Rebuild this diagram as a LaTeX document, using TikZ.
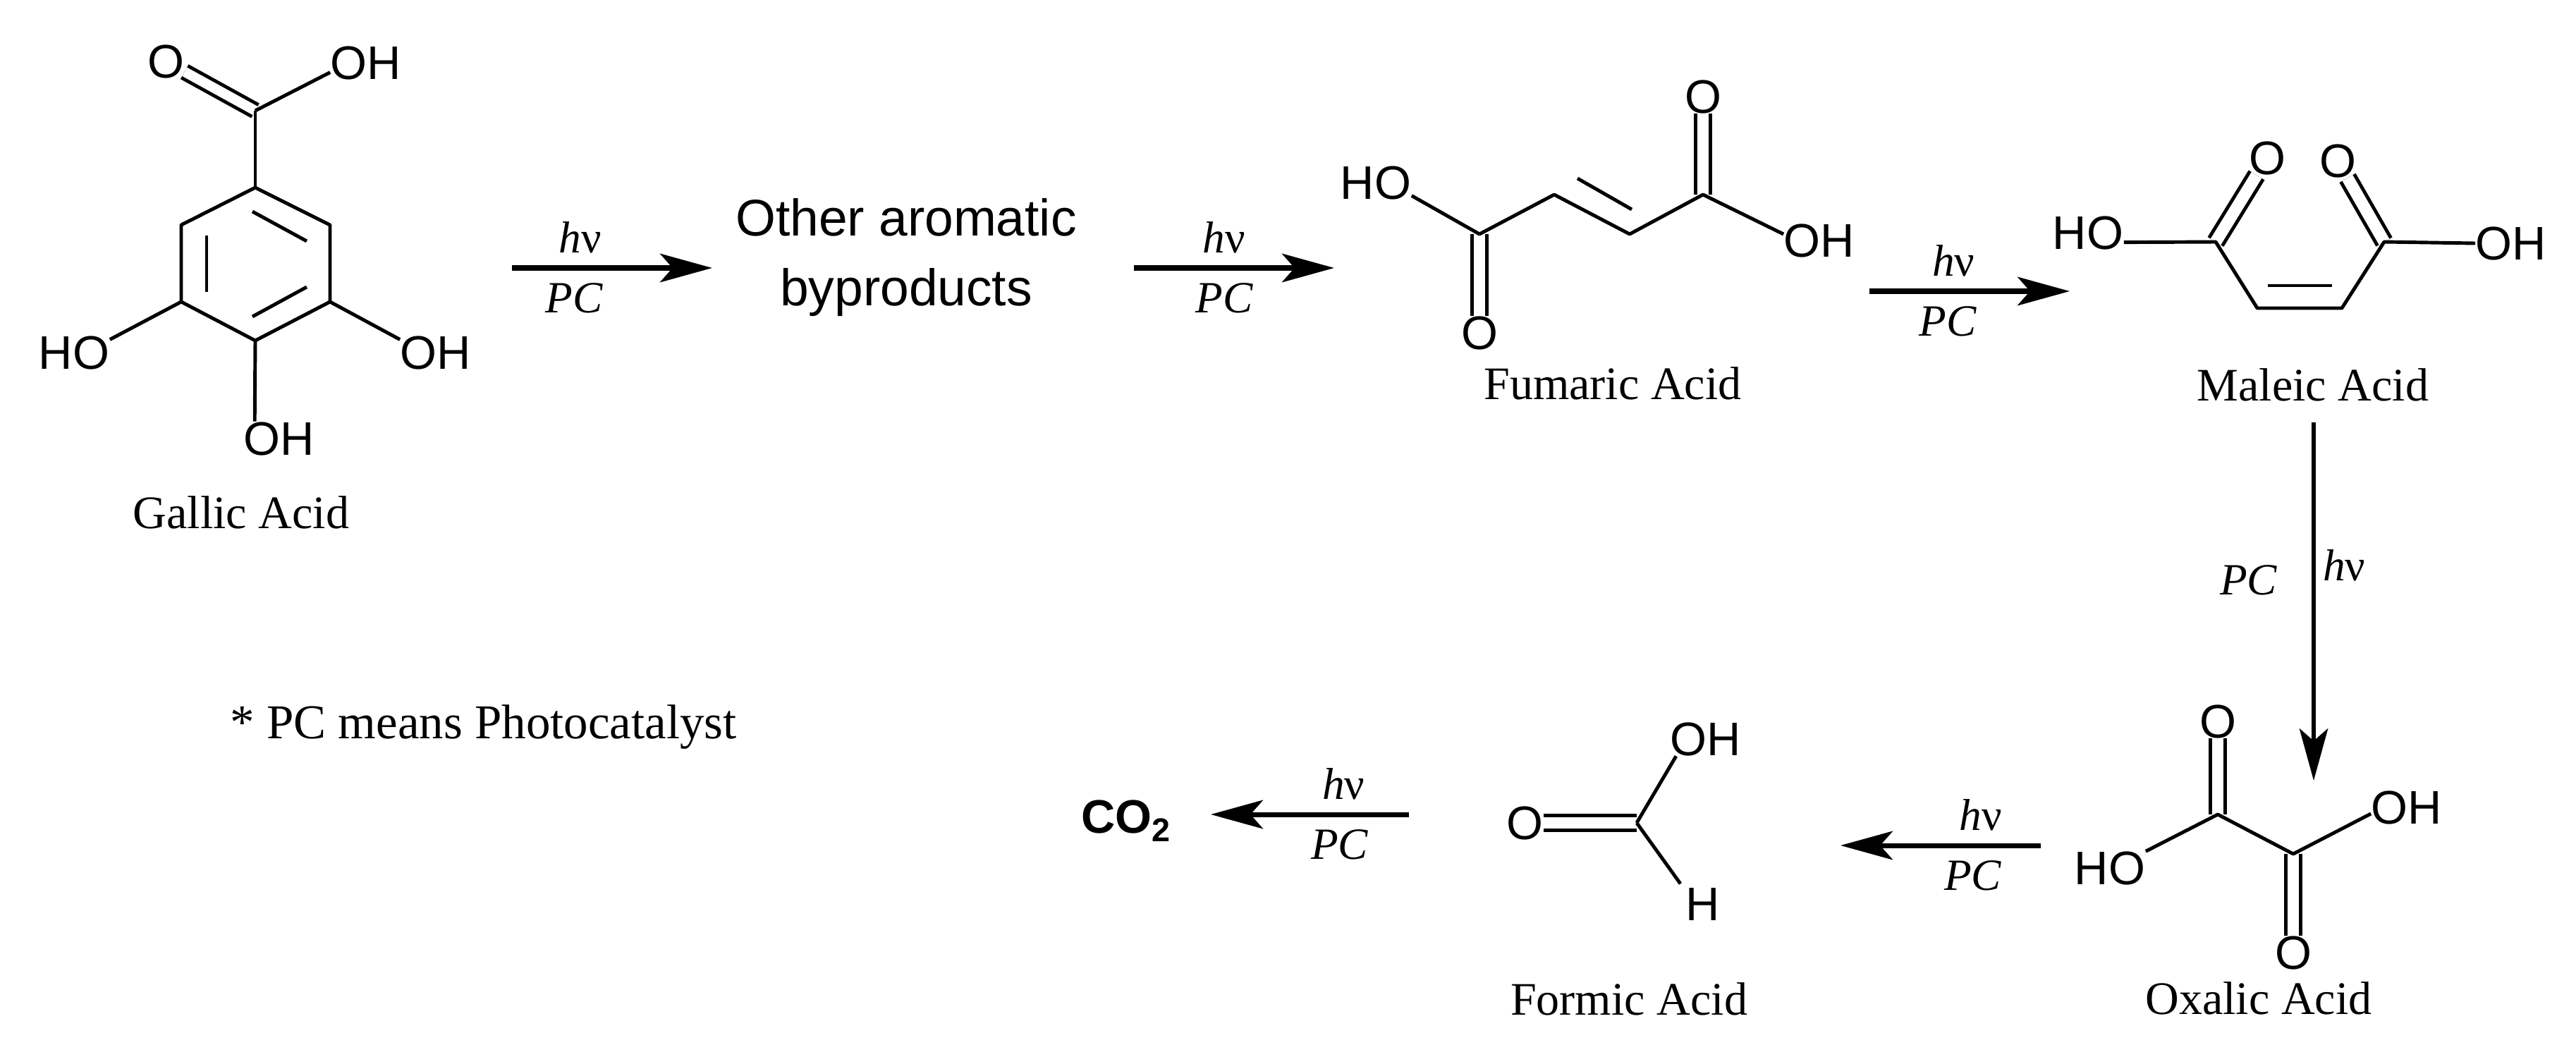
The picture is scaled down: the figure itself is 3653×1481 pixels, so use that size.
\documentclass[tikz,border=0pt]{standalone}
\usepackage{fontspec}
\setmainfont{Liberation Serif}
\setsansfont{Liberation Sans}
\usepackage{tikz}
\usetikzlibrary{arrows.meta}

\begin{document}
\begin{tikzpicture}[x=0.01cm,y=-0.01cm,>={Stealth[length=21pt,width=11.5pt,inset=5pt]},line join=round]
  \tikzstyle{atom}=[inner sep=0pt,font=\sffamily\fontsize{19}{19}\selectfont]
  \tikzstyle{acid}=[inner sep=0pt,font=\fontsize{18.8}{20}\selectfont]
  \tikzstyle{bond}=[line width=1.4pt]
  \tikzstyle{dbond}=[line width=1.4pt,double,double distance=4.8pt]
  \tikzstyle{react}=[line width=2pt,->]
  \tikzstyle{hv}=[inner sep=0pt,above=5pt,font=\fontsize{18}{18}\selectfont]
  \tikzstyle{pc}=[inner sep=0pt,below=5pt,font=\itshape\fontsize{18}{18}\selectfont]
  \useasboundingbox (0,0) rectangle (3653,1481);

  \coordinate (r1) at (362,266);
  \coordinate (r2) at (257,319);
  \coordinate (r3) at (257,428);
  \coordinate (r4) at (362,483);
  \coordinate (r5) at (468,428);
  \coordinate (r6) at (468,319);
  \coordinate (g1) at (362,157);
  \coordinate (i1) at (358,300);
  \coordinate (i2) at (435,342);
  \coordinate (i3) at (293,334);
  \coordinate (i4) at (293,414);
  \coordinate (i5) at (358,449);
  \coordinate (i6) at (435,407);
  \node[atom] (gO)  at (235,87)  {O};
  \node[atom] (gOH) at (519,89)  {OH};
  \node[atom] (gA)  at (105,500) {HO};
  \node[atom] (gB)  at (618,500) {OH};
  \node[atom] (gC)  at (396,622) {OH};
  \node[acid] (gallic) at (342,727) {Gallic Acid};
  \path (g1) edge[dbond,double distance=4pt] (gO);
  \draw[bond] (r1) -- (r2) -- (r3) -- (r4) -- (r5) -- (r6) -- cycle;
  \path[bond] (g1) edge (r1)
              (g1) edge (gOH.195)
              (r3) edge (gA.20)
              (r5) edge (gB.160)
              (r4) edge (gC.145)
              (i1) edge (i2)
              (i3) edge (i4)
              (i5) edge (i6);

  \coordinate (a1s) at (726,380);
  \coordinate (a1e) at (1010,380);
  \path[react] (a1s) edge node[hv,pos=.34] (hv1) {{\itshape h}ν} node[pc,pos=.31] (pc1) {PC} (a1e);

  \node[inner sep=0pt,align=center,font=\sffamily\fontsize{20.8}{28}\selectfont] (other) at (1285,365) {Other aromatic\\byproducts};

  \coordinate (a2s) at (1608,380);
  \coordinate (a2e) at (1892,380);
  \path[react] (a2s) edge node[hv,pos=.45] (hv2) {{\itshape h}ν} node[pc,pos=.45] (pc2) {PC} (a2e);

  \coordinate (f1) at (2098,332);
  \coordinate (f2) at (2204,276);
  \coordinate (f3) at (2311,332);
  \coordinate (f4) at (2415,276);
  \coordinate (f5) at (2237,253);
  \coordinate (f6) at (2314,297);
  \node[atom] (fA) at (1951,259) {HO};
  \node[atom] (fB) at (2580,341) {OH};
  \node[atom] (fO) at (2415,137) {O};
  \node[atom] (fP) at (2098,472) {O};
  \node[acid] (fumaric) at (2287,544) {Fumaric Acid};
  \path (f4) edge[dbond] (fO)
        (f1) edge[dbond] (fP);
  \draw[bond] (fA.340) -- (f1) -- (f2) -- (f3) -- (f4) -- (fB.170);
  \path[bond] (f5) edge (f6);

  \coordinate (a3s) at (2651,413);
  \coordinate (a3e) at (2935,413);
  \path[react] (a3s) edge node[hv,pos=.42] (hv3) {{\itshape h}ν} node[pc,pos=.39] (pc3) {PC} (a3e);

  \coordinate (m1) at (3142,343);
  \coordinate (m2) at (3201,437);
  \coordinate (m3) at (3321,437);
  \coordinate (m4) at (3381,343);
  \coordinate (m5) at (3216,405);
  \coordinate (m6) at (3307,405);
  \node[atom] (mA) at (2961,330) {HO};
  \node[atom] (mB) at (3561,345) {OH};
  \node[atom] (mO) at (3215,224) {O};
  \node[atom] (mP) at (3315,228) {O};
  \node[acid] (maleic) at (3280,546) {Maleic Acid};
  \path (m1) edge[dbond] (mO)
        (m4) edge[dbond] (mP);
  \draw[bond] (mA.345) -- (m1) -- (m2) -- (m3) -- (m4) -- (mB.west);
  \path[bond] (m5) edge (m6);

  \coordinate (a4s) at (3281,599);
  \coordinate (a4e) at (3281,1107);
  \path[react,line width=1.5pt] (a4s) edge node[inner sep=0pt,left=14pt,pos=.44,font=\itshape\fontsize{18}{18}\selectfont] (pc4) {PC} node[inner sep=0pt,right=3pt,pos=.40,font=\fontsize{18}{18}\selectfont] (hv4) {{\itshape h}ν} (a4e);

  \coordinate (o1) at (3145,1155);
  \coordinate (o2) at (3252,1211);
  \node[atom] (oA) at (2992,1231) {HO};
  \node[atom] (oB) at (3413,1145) {OH};
  \node[atom] (oO) at (3145,1023) {O};
  \node[atom] (oP) at (3252,1351) {O};
  \node[acid] (oxalic) at (3203,1416) {Oxalic Acid};
  \path (o1) edge[dbond] (oO)
        (o2) edge[dbond] (oP);
  \draw[bond] (oA.25) -- (o1) -- (o2) -- (oB.190);

  \coordinate (a5s) at (2894,1199);
  \coordinate (a5e) at (2610,1199);
  \path[react] (a5s) edge node[hv,pos=.30] (hv5) {{\itshape h}ν} node[pc,pos=.34] (pc5) {PC} (a5e);

  \coordinate (c1) at (2321,1167);
  \node[atom] (cO) at (2162,1167) {O};
  \node[atom] (cA) at (2419,1048) {OH};
  \node[atom] (cH) at (2415,1282) {H};
  \node[acid] (formic) at (2310,1417) {Formic Acid};
  \path (c1) edge[dbond] (cO);
  \path[bond] (c1) edge (cA.210)
              (c1) edge[shorten >=3.5pt] (cH.143);

  \coordinate (a6s) at (1998,1155);
  \coordinate (a6e) at (1717,1155);
  \path[react] (a6s) edge node[hv,pos=.33] (hv6) {{\itshape h}ν} node[pc,pos=.35] (pc6) {PC} (a6e);

  \node[inner sep=0pt,font=\sffamily\bfseries\fontsize{19}{19}\selectfont] (co2) at (1597,1164) {CO\textsubscript{2}};

  \node[inner sep=0pt,anchor=west,font=\fontsize{19.6}{20}\selectfont] (note) at (326,1031) {* PC means Photocatalyst};
\end{tikzpicture}
\end{document}
